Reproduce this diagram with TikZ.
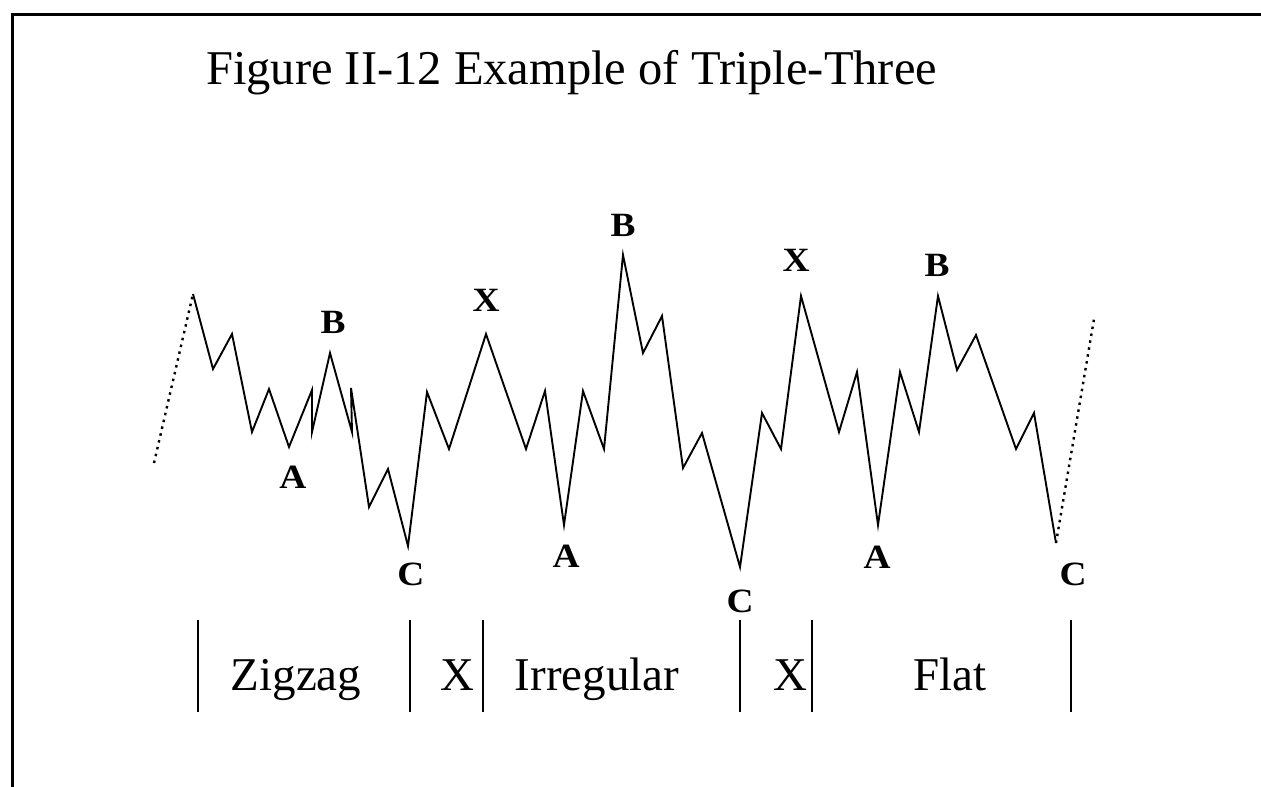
\documentclass[tikz,border=0pt]{standalone}
\usepackage{fontspec}
\setmainfont{Liberation Serif}
\begin{document}
\begin{tikzpicture}[x=1pt,y=-1pt,
  wave/.style={line width=1.9pt, line join=miter},
  trend/.style={line width=2.4pt, dash pattern=on 2.5pt off 4.5pt},
  bar/.style={line width=1.4pt},
  lbl/.style={font=\bfseries\fontsize{34}{34}\selectfont, inner sep=0pt, xscale=1.1},
  seg/.style={font=\fontsize{47}{47}\selectfont, inner sep=0pt, anchor=base},
  title/.style={font=\fontsize{48.5}{48.5}\selectfont, inner sep=0pt, anchor=base west}]
\useasboundingbox (0,0) rectangle (1261,787);
\fill[white] (0,0) rectangle (1261,787);
% frame
\draw[line width=3pt] (12,787) -- (12,14) -- (1261,14);
% title
\node[title] (ttl) at (206,84) {Figure II-12 Example of Triple-Three};
% wave
\coordinate (s0) at (154,463);
\coordinate (s1) at (193,294);
\coordinate (e0) at (1056,543);
\coordinate (e1) at (1094,319);
\draw[trend] (s0) -- (s1);
\draw[trend] (e0) -- (e1);
\draw[wave] (s1) -- (213,369) -- (232,334) -- (252,432) -- (269,389) -- (289,447)
  -- (312,390) -- (312,432) -- (330,353) -- (352,432) -- (351,388) -- (369,507)
  -- (388,469) -- (408,546) -- (427,392) -- (449,449) -- (486,334) -- (526,449)
  -- (545,391) -- (564,525) -- (583,391) -- (604,449) -- (623,255) -- (643,353)
  -- (662,316) -- (683,468) -- (702,433) -- (740,567) -- (762,413) -- (781,449)
  -- (801,296) -- (839,432) -- (857,372) -- (878,525) -- (900,372) -- (919,432)
  -- (938,296) -- (957,370) -- (976,335) -- (1016,449) -- (1034,413) -- (e0);
% point labels
\node[lbl] (a1) at (293,477) {A};
\node[lbl] (b1) at (333,322) {B};
\node[lbl] (c1) at (411,574) {C};
\node[lbl] (x1) at (486,300) {X};
\node[lbl] (b2) at (623,225) {B};
\node[lbl] (a2) at (566,556) {A};
\node[lbl] (c2) at (740,601) {C};
\node[lbl] (x2) at (796,260) {X};
\node[lbl] (b3) at (937,265) {B};
\node[lbl] (a3) at (877,557) {A};
\node[lbl] (c3) at (1073,574) {C};
% segment bars
\foreach \n/\x in {k0/198,k1/410,k2/483,k3/740,k4/812,k5/1071}{
  \coordinate (\n t) at (\x,620);
  \coordinate (\n b) at (\x,712);
  \draw[bar] (\n t) -- (\n b);
}
\node[seg] (zz) at (296,690) {Zigzag};
\node[seg] (xa) at (457,690) {X};
\node[seg] (ir) at (597,690) {Irregular};
\node[seg] (xb) at (790,690) {X};
\node[seg] (fl) at (950,690) {Flat};
\end{tikzpicture}
\end{document}
